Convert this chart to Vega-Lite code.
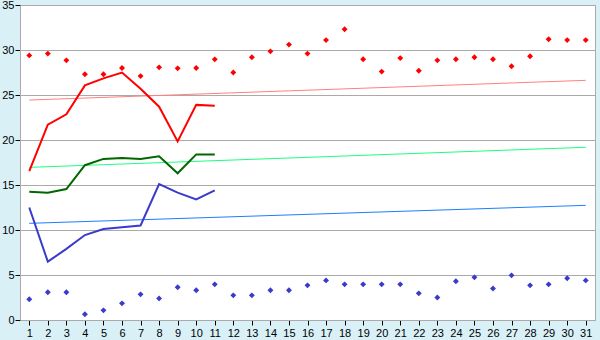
{
  "$schema": "https://vega.github.io/schema/vega-lite/v6.json",
  "autosize": {"type": "none"},
  "padding": {"left": 20, "top": 5, "right": 5, "bottom": 20},
  "width": 575,
  "height": 315,
  "background": "#d9f0f7",
  "view": {"fill": "white", "stroke": "#aaaaaa", "strokeWidth": 1},
  "config": {
    "axis": {"labelFont": "Liberation Sans", "labelFontSize": 11, "labelColor": "#000", "domainColor": "#aaaaaa", "tickColor": "#000", "title": null}
  },
  "datasets": {
    "trend": [
      {"day": 1, "series": "tmax", "value": 24.44}, {"day": 31, "series": "tmax", "value": 26.63},
      {"day": 1, "series": "tmid", "value": 16.96}, {"day": 31, "series": "tmid", "value": 19.19},
      {"day": 1, "series": "tmin", "value": 10.74}, {"day": 31, "series": "tmin", "value": 12.74}
    ],
    "lines": [
      {"day": 1, "series": "max", "value": 16.55}, {"day": 2, "series": "max", "value": 21.7}, {"day": 3, "series": "max", "value": 22.85}, {"day": 4, "series": "max", "value": 26.07}, {"day": 5, "series": "max", "value": 26.85}, {"day": 6, "series": "max", "value": 27.5}, {"day": 7, "series": "max", "value": 25.7}, {"day": 8, "series": "max", "value": 23.7}, {"day": 9, "series": "max", "value": 19.85}, {"day": 10, "series": "max", "value": 23.9}, {"day": 11, "series": "max", "value": 23.8},
      {"day": 1, "series": "mid", "value": 14.26}, {"day": 2, "series": "mid", "value": 14.15}, {"day": 3, "series": "mid", "value": 14.55}, {"day": 4, "series": "mid", "value": 17.2}, {"day": 5, "series": "mid", "value": 17.9}, {"day": 6, "series": "mid", "value": 18.0}, {"day": 7, "series": "mid", "value": 17.9}, {"day": 8, "series": "mid", "value": 18.2}, {"day": 9, "series": "mid", "value": 16.3}, {"day": 10, "series": "mid", "value": 18.4}, {"day": 11, "series": "mid", "value": 18.4},
      {"day": 1, "series": "min", "value": 12.5}, {"day": 2, "series": "min", "value": 6.48}, {"day": 3, "series": "min", "value": 7.9}, {"day": 4, "series": "min", "value": 9.44}, {"day": 5, "series": "min", "value": 10.1}, {"day": 6, "series": "min", "value": 10.3}, {"day": 7, "series": "min", "value": 10.5}, {"day": 8, "series": "min", "value": 15.1}, {"day": 9, "series": "min", "value": 14.15}, {"day": 10, "series": "min", "value": 13.4}, {"day": 11, "series": "min", "value": 14.4}
    ],
    "dots": [
      {"day": 1, "series": "hi", "value": 29.4}, {"day": 2, "series": "hi", "value": 29.6}, {"day": 3, "series": "hi", "value": 28.85}, {"day": 4, "series": "hi", "value": 27.3}, {"day": 5, "series": "hi", "value": 27.3}, {"day": 6, "series": "hi", "value": 28.0}, {"day": 7, "series": "hi", "value": 27.1}, {"day": 8, "series": "hi", "value": 28.07}, {"day": 9, "series": "hi", "value": 27.96}, {"day": 10, "series": "hi", "value": 28.0},
      {"day": 11, "series": "hi", "value": 28.96}, {"day": 12, "series": "hi", "value": 27.5}, {"day": 13, "series": "hi", "value": 29.2}, {"day": 14, "series": "hi", "value": 29.85}, {"day": 15, "series": "hi", "value": 30.6}, {"day": 16, "series": "hi", "value": 29.6}, {"day": 17, "series": "hi", "value": 31.1}, {"day": 18, "series": "hi", "value": 32.3}, {"day": 19, "series": "hi", "value": 28.97}, {"day": 20, "series": "hi", "value": 27.6},
      {"day": 21, "series": "hi", "value": 29.1}, {"day": 22, "series": "hi", "value": 27.7}, {"day": 23, "series": "hi", "value": 28.85}, {"day": 24, "series": "hi", "value": 28.97}, {"day": 25, "series": "hi", "value": 29.2}, {"day": 26, "series": "hi", "value": 28.97}, {"day": 27, "series": "hi", "value": 28.2}, {"day": 28, "series": "hi", "value": 29.3}, {"day": 29, "series": "hi", "value": 31.2}, {"day": 30, "series": "hi", "value": 31.1}, {"day": 31, "series": "hi", "value": 31.1},
      {"day": 1, "series": "lo", "value": 2.3}, {"day": 2, "series": "lo", "value": 3.08}, {"day": 3, "series": "lo", "value": 3.08}, {"day": 4, "series": "lo", "value": 0.63}, {"day": 5, "series": "lo", "value": 1.07}, {"day": 6, "series": "lo", "value": 1.85}, {"day": 7, "series": "lo", "value": 2.85}, {"day": 8, "series": "lo", "value": 2.4}, {"day": 9, "series": "lo", "value": 3.63}, {"day": 10, "series": "lo", "value": 3.3},
      {"day": 11, "series": "lo", "value": 3.96}, {"day": 12, "series": "lo", "value": 2.74}, {"day": 13, "series": "lo", "value": 2.74}, {"day": 14, "series": "lo", "value": 3.3}, {"day": 15, "series": "lo", "value": 3.3}, {"day": 16, "series": "lo", "value": 3.85}, {"day": 17, "series": "lo", "value": 4.4}, {"day": 18, "series": "lo", "value": 3.96}, {"day": 19, "series": "lo", "value": 3.96}, {"day": 20, "series": "lo", "value": 3.96},
      {"day": 21, "series": "lo", "value": 3.96}, {"day": 22, "series": "lo", "value": 2.96}, {"day": 23, "series": "lo", "value": 2.5}, {"day": 24, "series": "lo", "value": 4.3}, {"day": 25, "series": "lo", "value": 4.74}, {"day": 26, "series": "lo", "value": 3.5}, {"day": 27, "series": "lo", "value": 4.96}, {"day": 28, "series": "lo", "value": 3.85}, {"day": 29, "series": "lo", "value": 3.96}, {"day": 30, "series": "lo", "value": 4.63}, {"day": 31, "series": "lo", "value": 4.4}
    ]
  },
  "encoding": {
    "x": {"field": "day", "type": "quantitative", "scale": {"domain": [0.5, 31.5], "nice": false, "zero": false},
      "axis": {"values": [1,2,3,4,5,6,7,8,9,10,11,12,13,14,15,16,17,18,19,20,21,22,23,24,25,26,27,28,29,30,31], "grid": false, "tickSize": 5, "labelPadding": 2, "format": "d"}},
    "y": {"field": "value", "type": "quantitative", "scale": {"domain": [0, 35], "nice": false},
      "axis": {"values": [0,5,10,15,20,25,30,35], "grid": true, "gridColor": "#aaaaaa", "tickSize": 5, "labelPadding": 1}},
    "color": {"field": "series", "type": "nominal", "legend": null,
      "scale": {"domain": ["tmax","tmid","tmin","max","mid","min","hi","lo"], "range": ["#ff8080","#1aff80","#1a80ff","#ff0000","#006600","#3a3acc","#ff0000","#3a3acc"]}}
  },
  "layer": [
    {"data": {"name": "trend"}, "mark": {"type": "line", "strokeWidth": 1}},
    {"data": {"name": "lines"}, "mark": {"type": "line", "strokeWidth": 2}},
    {"data": {"name": "dots"}, "mark": {"type": "point", "shape": "diamond", "filled": true, "size": 35, "opacity": 1}}
  ]
}
